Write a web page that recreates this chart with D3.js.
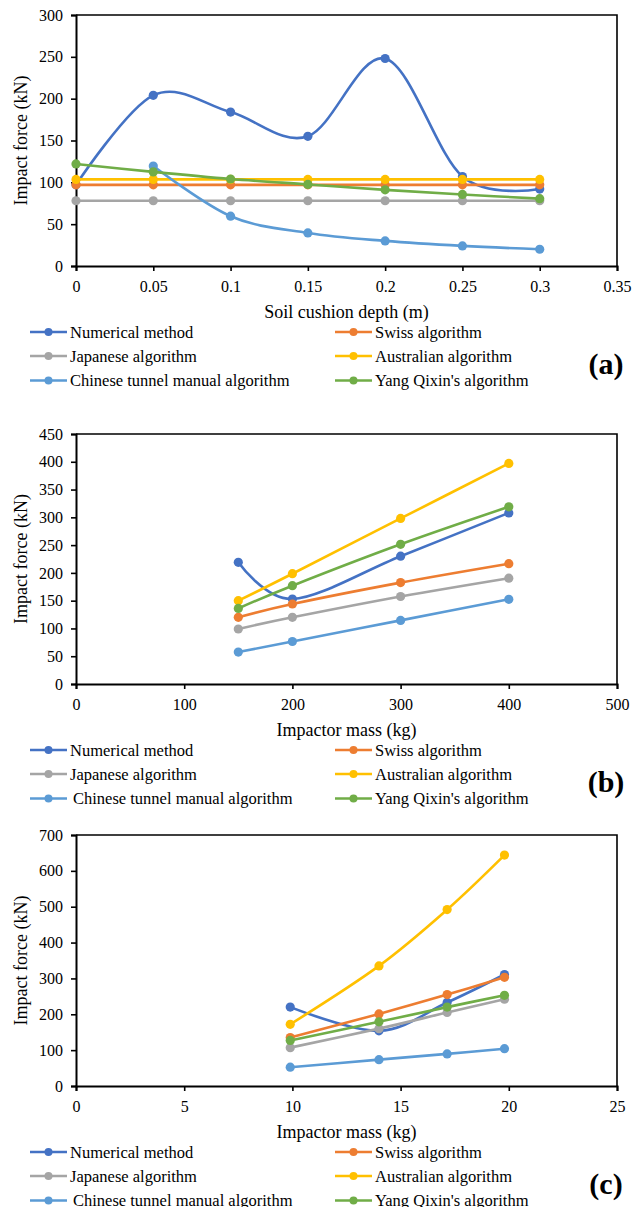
<!DOCTYPE html>
<html><head><meta charset="utf-8">
<script src="https://cdn.jsdelivr.net/npm/d3@7"></script>
<style>
html,body{margin:0;padding:0;background:#fff;}
svg{display:block;}
</style></head>
<body>
<svg id="chart" width="644" height="1207"></svg>
<script>
// ---------- DATA ----------
const seriesNames = ["Numerical method","Swiss algorithm","Japanese algorithm","Australian algorithm","Chinese tunnel manual algorithm","Yang Qixin's algorithm"];
const seriesColors = ["#4472C4","#ED7D31","#A5A5A5","#FFC000","#5B9BD5","#70AD47"];

// Panel (a): soil cushion depth (m)
const depthA = [0, 0.05, 0.1, 0.15, 0.2, 0.25, 0.3];
const numericalA  = [97, 204, 184, 155, 248, 107, 92];
const swissA      = [97, 97, 97, 97, 97, 97, 97];
const japaneseA   = [78, 78, 78, 78, 78, 78, 78];
const australianA = [103.5, 103.5, 103.5, 103.5, 103.5, 103.5, 103.5];
const chineseA    = [null, 119.5, 59.5, 39.5, 30, 24, 20];
const yangA       = [122, 112.5, 104, 97.5, 91, 85.5, 80.5];
const xTicksA = [0, 0.05, 0.1, 0.15, 0.2, 0.25, 0.3, 0.35];
const xTickLabelsA = ["0","0.05","0.1","0.15","0.2","0.25","0.3","0.35"];
const yTicksA = [0, 50, 100, 150, 200, 250, 300];

// Panel (b): impactor mass (kg)
const massB = [150, 200, 300, 400];
const numericalB  = [219, 153, 230, 308];
const swissB      = [120, 144, 182.5, 216.5];
const japaneseB   = [99, 120, 157.5, 190.5];
const australianB = [150, 198.5, 298, 397];
const chineseB    = [57.5, 76.5, 114.5, 152.5];
const yangB       = [136, 177, 251.5, 319];
const xTicksB = [0, 100, 200, 300, 400, 500];
const yTicksB = [0, 50, 100, 150, 200, 250, 300, 350, 400, 450];

// Panel (c): impactor mass (kg)
const massC = [9.9, 14, 17.15, 19.8];
const numericalC  = [220, 154, 233, 311];
const swissC      = [135, 201, 255, 303];
const japaneseC   = [107, 160, 205, 242];
const australianC = [172, 335, 492, 644];
const chineseC    = [52.5, 73.5, 89.5, 104];
const yangC       = [127, 179, 220, 253];
const xTicksC = [0, 5, 10, 15, 20, 25];
const yTicksC = [0, 100, 200, 300, 400, 500, 600, 700];

const yTitle = "Impact force (kN)";

const FONT = "'Liberation Serif', 'Times New Roman', Times, serif";

const panels = [
  {top:15, bottom:266, xDomain:[0,0.35], yDomain:[0,300], xs:depthA,
   series:[numericalA,swissA,japaneseA,australianA,chineseA,yangA],
   xTicks:xTicksA, xLabels:xTickLabelsA, yTicks:yTicksA, xTitle:"Soil cushion depth (m)", tag:"(a)"},
  {top:434, bottom:684, xDomain:[0,500], yDomain:[0,450], xs:massB,
   series:[numericalB,swissB,japaneseB,australianB,chineseB,yangB],
   xTicks:xTicksB, xLabels:xTicksB.map(String), yTicks:yTicksB, xTitle:"Impactor mass (kg)", tag:"(b)"},
  {top:835, bottom:1086, xDomain:[0,25], yDomain:[0,700], xs:massC,
   series:[numericalC,swissC,japaneseC,australianC,chineseC,yangC],
   xTicks:xTicksC, xLabels:xTicksC.map(String), yTicks:yTicksC, xTitle:"Impactor mass (kg)", tag:"(c)"}
];

const svg = d3.select("#chart").style("font-family", FONT);
const left = 76, right = 617;

panels.forEach((p, pi) => {
  const x = d3.scaleLinear().domain(p.xDomain).range([left, right]);
  const y = d3.scaleLinear().domain(p.yDomain).range([p.bottom, p.top]);
  const g = svg.append("g");

  // plot border (top & right)
  g.append("path")
    .attr("d", `M${left},${p.top}H${right}V${p.bottom}`)
    .attr("fill","none").attr("stroke","#000").attr("stroke-width",1.6);

  // y axis
  const yAx = g.append("g").attr("transform",`translate(${left},0)`)
    .call(d3.axisLeft(y).tickValues(p.yTicks).tickSize(5).tickPadding(8).tickFormat(d3.format("d")));
  yAx.attr("font-family", null).attr("font-size", null);
  yAx.select(".domain").attr("stroke-width",2);
  yAx.selectAll(".tick line").attr("stroke-width",1.6);
  yAx.selectAll("text").style("font-family",FONT).style("font-size","16px").attr("fill","#000");

  // x axis
  const xAx = g.append("g").attr("transform",`translate(0,${p.bottom})`)
    .call(d3.axisBottom(x).tickValues(p.xTicks).tickSize(5).tickPadding(8)
      .tickFormat((d,i) => p.xLabels[i]));
  xAx.attr("font-family", null).attr("font-size", null);
  xAx.select(".domain").attr("stroke-width",2);
  xAx.selectAll(".tick line").attr("stroke-width",1.6);
  xAx.selectAll("text").style("font-family",FONT).style("font-size","16px").attr("fill","#000")
     .attr("dy",null).attr("y",20).attr("dominant-baseline","central");

  // y title
  g.append("text")
    .attr("transform",`translate(21,${(p.top+p.bottom)/2}) rotate(-90)`)
    .attr("text-anchor","middle").attr("dominant-baseline","central")
    .style("font-family",FONT).style("font-size","18px").text(yTitle);

  // x title
  g.append("text")
    .attr("x",(left+right)/2).attr("y",p.bottom+46)
    .attr("text-anchor","middle").attr("dominant-baseline","central")
    .style("font-family",FONT).style("font-size","18px").text(p.xTitle);

  // series
  p.series.forEach((vals, si) => {
    const pts = p.xs.map((xv,i)=>({x:xv,y:vals[i]})).filter(d=>d.y!==null);
    const line = d3.line().x(d=>x(d.x)).y(d=>y(d.y)).curve(d3.curveCardinal.tension(0));
    g.append("path").datum(pts)
      .attr("d",line).attr("fill","none")
      .attr("stroke",seriesColors[si]).attr("stroke-width",2.6)
      .attr("stroke-linejoin","round");
    g.selectAll(null).data(pts).enter().append("circle")
      .attr("cx",d=>x(d.x)).attr("cy",d=>y(d.y)).attr("r",4.6)
      .attr("fill",seriesColors[si]);
  });

  // legend
  const rowY = [p.bottom+66, p.bottom+90, p.bottom+114.5];
  const colX = [30, 335];
  seriesNames.forEach((name, si) => {
    const cx = colX[si % 2], cy = rowY[Math.floor(si/2)];
    const lg = g.append("g");
    lg.append("line").attr("x1",cx).attr("x2",cx+37).attr("y1",cy).attr("y2",cy)
      .attr("stroke",seriesColors[si]).attr("stroke-width",2.6);
    lg.append("circle").attr("cx",cx+18.5).attr("cy",cy).attr("r",4)
      .attr("fill",seriesColors[si]);
    lg.append("text").attr("x",cx+40 + ((si===4 && pi>0)?3:0)).attr("y",cy)
      .attr("dominant-baseline","central")
      .style("font-family",FONT).style("font-size","16.5px").text(name);
  });

  // panel tag
  g.append("text").attr("x",606).attr("y",p.bottom+97)
    .attr("text-anchor","middle").attr("dominant-baseline","central")
    .style("font-family",FONT).style("font-size","30px").style("font-weight","bold").text(p.tag);
});
</script>
</body></html>
